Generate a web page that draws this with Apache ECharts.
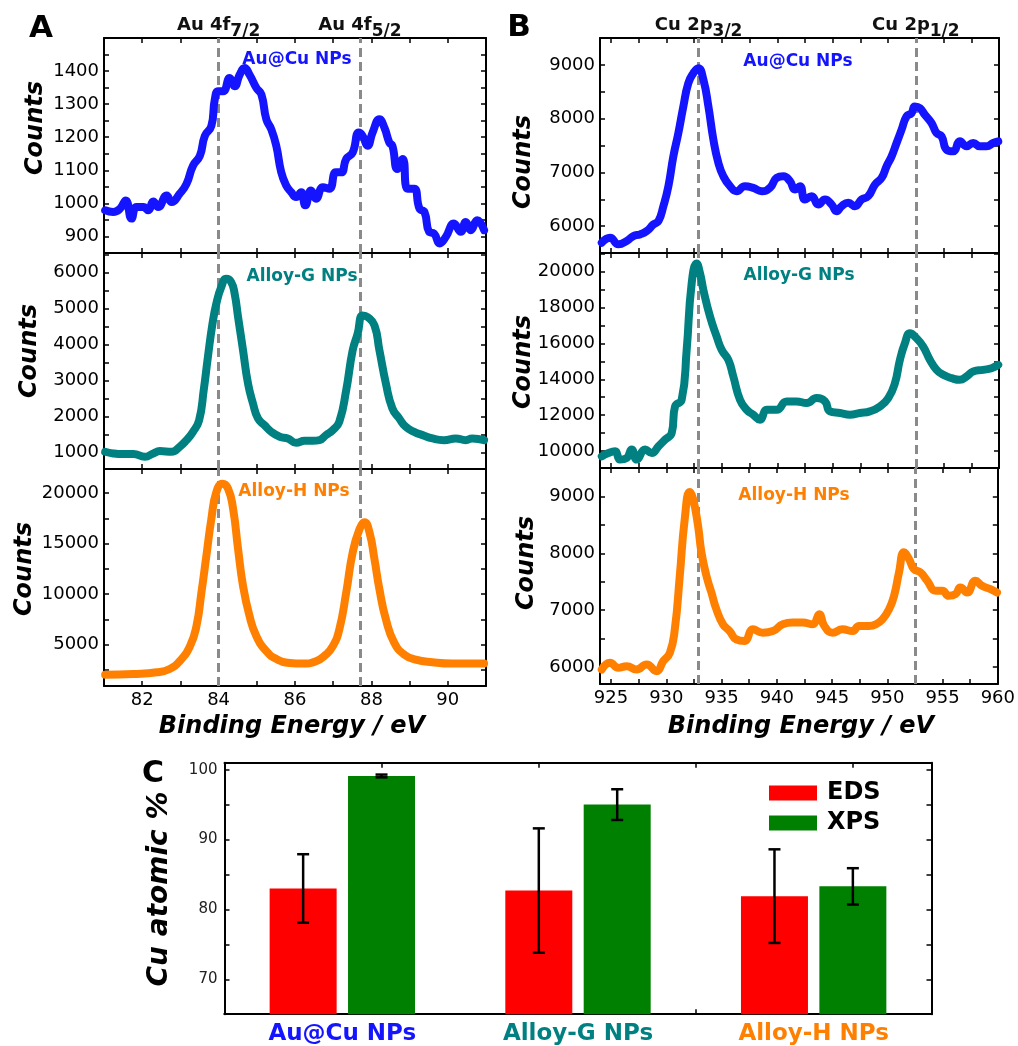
<!DOCTYPE html>
<html>
<head>
<meta charset="utf-8">
<script src="https://cdn.jsdelivr.net/npm/echarts@6/dist/echarts.min.js"></script>
<style>
  html, body { margin: 0; padding: 0; background: #fff; }
  #chart { width: 1018px; height: 1046px; }
</style>
</head>
<body>
<div id="chart"></div>
<script>
// ---------- data ----------
// Au 4f region (binding energy eV, counts)
const au4fAuCu = [[81.03,979],[81.24,974],[81.42,984],[81.57,1009],[81.72,954],[81.85,989],[82.03,989],[82.16,979],[82.29,1006],[82.42,989],[82.64,1024],[82.77,1004],[82.98,1029],[83.16,1059],[83.33,1114],[83.51,1144],[83.64,1204],[83.81,1234],[83.90,1314],[83.99,1339],[84.12,1339],[84.29,1379],[84.42,1354],[84.55,1389],[84.68,1409],[84.81,1389],[84.99,1349],[85.12,1329],[85.25,1254],[85.38,1224],[85.51,1174],[85.64,1094],[85.77,1054],[85.90,1034],[86.03,1019],[86.16,1034],[86.27,994],[86.42,1039],[86.55,1014],[86.73,1049],[86.90,1044],[87.07,1094],[87.21,1094],[87.34,1134],[87.51,1154],[87.67,1214],[87.77,1204],[87.90,1174],[88.03,1214],[88.21,1254],[88.34,1229],[88.47,1184],[88.55,1174],[88.68,1104],[88.82,1134],[88.95,1044],[89.12,1044],[89.26,984],[89.39,974],[89.51,914],[89.64,909],[89.79,879],[89.95,899],[90.16,939],[90.34,914],[90.47,944],[90.60,919],[90.77,949],[90.95,919]];
const au4fAlloyG = [[81.03,1029],[81.24,983],[81.50,964],[81.77,964],[82.07,890],[82.29,983],[82.46,1047],[82.77,1029],[82.98,1167],[83.16,1352],[83.33,1583],[83.49,1907],[83.61,2738],[83.72,3662],[83.84,4586],[83.94,5141],[84.07,5603],[84.20,5834],[84.33,5741],[84.42,5418],[84.51,4771],[84.64,3847],[84.77,2923],[84.90,2369],[85.03,1953],[85.20,1768],[85.38,1583],[85.60,1445],[85.81,1398],[86.03,1278],[86.25,1334],[86.47,1334],[86.64,1352],[86.81,1491],[86.99,1630],[87.16,1861],[87.34,2738],[87.51,3847],[87.64,4309],[87.77,4817],[87.90,4771],[88.08,4540],[88.21,3847],[88.38,2923],[88.55,2230],[88.73,1953],[88.90,1722],[89.12,1583],[89.34,1491],[89.60,1398],[89.90,1352],[90.21,1398],[90.47,1352],[90.64,1398],[90.95,1352]];
const au4fAlloyH = [[81.03,2022],[81.77,2088],[82.38,2254],[82.72,2586],[82.98,3351],[83.25,4841],[83.42,6830],[83.55,10148],[83.68,13797],[83.81,17446],[83.94,20100],[84.10,20929],[84.25,20431],[84.38,18441],[84.51,14461],[84.64,10812],[84.81,7827],[84.99,5836],[85.25,4344],[85.51,3581],[85.86,3183],[86.20,3117],[86.55,3351],[86.81,4012],[86.99,4841],[87.16,6500],[87.34,10148],[87.51,14129],[87.69,16450],[87.82,17114],[87.95,16119],[88.08,13466],[88.21,10480],[88.38,7495],[88.60,5173],[88.86,4012],[89.16,3514],[89.60,3249],[90.12,3117],[90.64,3117],[90.95,3117]];

// Cu 2p region
const cu2pAuCu = [[924.16,5692],[924.91,5784],[925.66,5661],[926.41,5723],[927.01,5815],[927.61,5846],[928.22,5908],[928.82,6032],[929.27,6093],[929.72,6372],[930.17,6743],[930.62,7299],[931.07,7732],[931.52,8227],[931.97,8660],[932.42,8845],[932.87,8938],[933.33,8722],[933.78,8227],[934.23,7609],[934.68,7176],[935.13,6928],[935.73,6743],[936.33,6650],[937.08,6743],[937.83,6712],[938.59,6650],[939.34,6712],[939.94,6897],[940.54,6928],[941.14,6836],[941.59,6681],[942.04,6743],[942.49,6496],[943.09,6557],[943.70,6403],[944.30,6496],[944.90,6403],[945.35,6279],[945.80,6372],[946.40,6434],[947.00,6372],[947.60,6496],[948.20,6557],[948.81,6774],[949.41,6897],[949.86,7114],[950.31,7299],[950.76,7547],[951.21,7794],[951.66,8041],[952.11,8103],[952.41,8227],[952.86,8196],[953.31,8072],[953.91,7918],[954.37,7732],[954.82,7670],[955.27,7423],[955.87,7392],[956.47,7578],[957.07,7485],[957.67,7547],[958.27,7485],[958.87,7485],[959.48,7547],[959.93,7578]];
const cu2pAlloyG = [[924.16,9705],[924.76,9890],[925.36,9983],[925.81,9519],[926.41,9612],[926.86,10076],[927.31,9519],[928.07,10076],[928.67,9890],[929.27,10261],[929.87,10633],[930.47,11003],[930.77,12487],[931.37,12858],[931.82,15641],[932.27,19351],[932.72,20464],[933.03,19907],[933.33,18980],[933.93,17496],[934.53,16383],[934.98,15641],[935.58,15084],[936.03,14157],[936.63,12858],[937.23,12302],[937.83,12024],[938.44,11745],[939.04,12302],[939.94,12302],[940.84,12766],[941.74,12766],[942.64,12673],[943.55,12951],[944.30,12766],[944.75,12210],[945.65,12116],[946.55,12024],[947.45,12116],[948.35,12210],[949.26,12487],[950.01,12951],[950.61,13786],[951.06,15084],[951.51,16012],[951.96,16568],[952.56,16290],[953.16,15826],[953.77,15084],[954.37,14528],[954.97,14250],[955.72,14064],[956.47,13971],[957.07,14157],[957.67,14435],[958.57,14528],[959.33,14621],[959.93,14806]];
const cu2pAlloyH = [[924.16,5955],[924.91,6073],[925.66,5984],[926.41,6014],[927.31,5955],[928.22,6043],[929.12,5925],[929.72,6102],[930.32,6249],[930.77,6662],[931.22,7604],[931.67,8605],[932.12,9077],[932.42,8959],[932.87,8488],[933.18,8016],[933.63,7604],[934.08,7310],[934.53,7015],[935.13,6750],[935.73,6632],[936.33,6485],[937.08,6456],[937.83,6662],[938.74,6603],[939.64,6632],[940.54,6750],[941.44,6780],[942.34,6780],[943.24,6750],[943.85,6927],[944.30,6721],[945.05,6603],[945.95,6662],[946.85,6632],[947.45,6721],[948.35,6721],[948.96,6750],[949.56,6838],[950.16,7015],[950.61,7251],[951.06,7663],[951.51,8016],[951.96,7899],[952.41,7722],[953.01,7663],[953.61,7516],[954.37,7339],[954.97,7339],[955.57,7251],[956.17,7280],[956.62,7398],[957.22,7310],[957.97,7516],[958.57,7428],[959.33,7369],[959.93,7310]];

// peak positions and names
const peaksAu = [84.0, 87.7];
const peakNamesAu = [['Au 4f', '7/2'], ['Au 4f', '5/2']];
const peaksCu = [932.9, 952.5];
const peakNamesCu = [['Cu 2p', '3/2'], ['Cu 2p', '1/2']];

// energy axes
const energyRangeAu = [81, 91];
const energyTicksAu = [82, 83, 84, 85, 86, 87, 88, 89, 90];
const energyLabelsAu = [82, 84, 86, 88, 90];
const energyRangeCu = [924, 960];
const energyTicksCu = [925, 927.5, 930, 932.5, 935, 937.5, 940, 942.5, 945, 947.5, 950, 952.5, 955, 957.5];
const energyLabelsCu = [925, 930, 935, 940, 945, 950, 955, 960];

// count axes, one per spectrum panel
const countRanges = [[850, 1500], [550, 6550], [900, 22400], [5500, 9500], [9050, 21050], [5700, 9500]];
const countLabels = [
  [900, 1000, 1100, 1200, 1300, 1400],
  [1000, 2000, 3000, 4000, 5000, 6000],
  [5000, 10000, 15000, 20000],
  [6000, 7000, 8000, 9000],
  [10000, 12000, 14000, 16000, 18000, 20000],
  [6000, 7000, 8000, 9000]
];
const countTicks = [
  [900, 950, 1000, 1050, 1100, 1150, 1200, 1250, 1300, 1350, 1400, 1450],
  [1000, 1500, 2000, 2500, 3000, 3500, 4000, 4500, 5000, 5500, 6000, 6500],
  [2500, 5000, 7500, 10000, 12500, 15000, 17500, 20000],
  [6000, 6500, 7000, 7500, 8000, 8500, 9000],
  [10000, 11000, 12000, 13000, 14000, 15000, 16000, 17000, 18000, 19000, 20000, 21000],
  [6000, 6500, 7000, 7500, 8000, 8500, 9000]
];

// Cu atomic % from EDS and XPS
const samples = ['Au@Cu NPs', 'Alloy-G NPs', 'Alloy-H NPs'];
const edsValues = [83.0, 82.7, 81.9];
const edsErrors = [4.9, 8.9, 6.7];
const xpsValues = [99.1, 95.0, 83.3];
const xpsErrors = [0.2, 2.2, 2.6];
const percentRange = [65, 101];
const percentLabels = [70, 80, 90, 100];
const percentTicks = [70, 75, 80, 85, 90, 95, 100];
const groupTicks = [1, 2, 3, 4];

// ---------- styling / layout ----------
const FONT = '"DejaVu Sans", Arial, sans-serif';
const BLUE = '#1414ff', TEAL = '#008080', ORANGE = '#ff8000';
const sampleColors = [BLUE, TEAL, ORANGE];

const gridBoxes = [
  { left: 104, top: 38, width: 382, height: 215 },
  { left: 104, top: 253, width: 382, height: 216 },
  { left: 104, top: 469, width: 382, height: 217 },
  { left: 600, top: 38, width: 399, height: 215 },
  { left: 600, top: 253, width: 399, height: 215 },
  { left: 600, top: 468, width: 399, height: 216 },
  { left: 224.5, top: 762.7, width: 707, height: 251.5 }
];

const spectra = [
  { data: au4fAuCu, color: BLUE },
  { data: au4fAlloyG, color: TEAL },
  { data: au4fAlloyH, color: ORANGE },
  { data: cu2pAuCu, color: BLUE },
  { data: cu2pAlloyG, color: TEAL },
  { data: cu2pAlloyH, color: ORANGE }
];

const BAR_W = 67;
const BAR_GAP = 0.17;

const lineBlack = { color: '#000', width: 2 };
const tickStyle = { color: '#000', width: 1.5 };
const plainNumber = v => String(v);

const xAxes = [], yAxes = [], series = [];

spectra.forEach((s, i) => {
  const isAu = i < 3;
  const range = isAu ? energyRangeAu : energyRangeCu;
  const ticks = isAu ? energyTicksAu : energyTicksCu;
  const labels = isAu ? energyLabelsAu : energyLabelsCu;
  const bottomPanel = (i % 3) === 2;
  const xBase = {
    type: 'value', gridIndex: i, min: range[0], max: range[1],
    splitLine: { show: false },
    axisLine: { show: true, onZero: false, lineStyle: lineBlack },
    axisTick: { show: true, inside: true, length: 5, customValues: ticks, lineStyle: tickStyle }
  };
  xAxes.push(Object.assign({}, xBase, {
    position: 'bottom',
    axisLabel: bottomPanel
      ? { show: true, customValues: labels, formatter: plainNumber, margin: 5, fontFamily: FONT, fontSize: 18, color: '#000' }
      : { show: false }
  }));
  xAxes.push(Object.assign({}, xBase, { position: 'top', axisLabel: { show: false } }));

  const yBase = {
    type: 'value', gridIndex: i, min: countRanges[i][0], max: countRanges[i][1],
    splitLine: { show: false },
    axisLine: { show: true, onZero: false, lineStyle: lineBlack },
    axisTick: { show: true, inside: true, length: 5, customValues: countTicks[i], lineStyle: tickStyle }
  };
  yAxes.push(Object.assign({}, yBase, {
    position: 'left',
    axisLabel: { show: true, customValues: countLabels[i], formatter: plainNumber, margin: 5, fontFamily: FONT, fontSize: 18, color: '#000' }
  }));
  yAxes.push(Object.assign({}, yBase, { position: 'right', axisLabel: { show: false } }));

  const peaks = isAu ? peaksAu : peaksCu;
  const names = isAu ? peakNamesAu : peakNamesCu;
  const topPanel = (i % 3) === 0;

  series.push({
    type: 'line',
    xAxisIndex: 2 * i, yAxisIndex: 2 * i,
    data: s.data,
    showSymbol: false,
    smooth: 0.5,
    lineStyle: { color: s.color, width: 8, cap: 'round', join: 'round' },
    itemStyle: { color: s.color },
    z: 3,
    markLine: {
      silent: true,
      symbol: 'none',
      z: 2,
      lineStyle: { color: '#8a8a8a', type: [9, 5], width: 3 },
      label: topPanel ? {
        show: true,
        position: 'end',
        distance: -2,
        formatter: p => '{m|' + names[p.dataIndex][0] + '}{s|' + names[p.dataIndex][1] + '}',
        rich: {
          m: { fontFamily: FONT, fontWeight: 'bold', fontSize: 18, lineHeight: 18, color: '#111', verticalAlign: 'top' },
          s: { fontFamily: FONT, fontWeight: 'bold', fontSize: 17, lineHeight: 24, color: '#111', verticalAlign: 'bottom' }
        }
      } : { show: false },
      data: peaks.map(x => ({ xAxis: x }))
    }
  });
});

// ---- bar panel (grid 6) ----
xAxes.push({
  type: 'category', gridIndex: 6, data: samples, position: 'bottom',
  axisLine: { show: true, lineStyle: lineBlack },
  axisTick: { show: false },
  axisLabel: {
    margin: 8,
    formatter: (v, idx) => '{c' + idx + '|' + v + '}',
    rich: {
      c0: { color: sampleColors[0], fontFamily: FONT, fontWeight: 'bold', fontSize: 23 },
      c1: { color: sampleColors[1], fontFamily: FONT, fontWeight: 'bold', fontSize: 23 },
      c2: { color: sampleColors[2], fontFamily: FONT, fontWeight: 'bold', fontSize: 23 }
    }
  }
});
const groupTickAxis = {
  type: 'value', gridIndex: 6, min: 0, max: 4.5,
  splitLine: { show: false },
  axisLabel: { show: false },
  axisLine: { show: true, onZero: false, lineStyle: lineBlack },
  axisTick: { show: true, inside: true, length: 5, customValues: groupTicks, lineStyle: tickStyle }
};
xAxes.push(Object.assign({}, groupTickAxis, { position: 'bottom' }));
xAxes.push(Object.assign({}, groupTickAxis, { position: 'top' }));

const pctBase = {
  type: 'value', gridIndex: 6, min: percentRange[0], max: percentRange[1],
  splitLine: { show: false },
  axisLine: { show: true, onZero: false, lineStyle: lineBlack },
  axisTick: { show: true, inside: true, length: 5, customValues: percentTicks, lineStyle: tickStyle }
};
yAxes.push(Object.assign({}, pctBase, {
  position: 'left',
  axisLabel: { show: true, customValues: percentLabels, formatter: plainNumber, margin: 7, fontFamily: FONT, fontSize: 15, color: '#222' }
}));
yAxes.push(Object.assign({}, pctBase, { position: 'right', axisLabel: { show: false } }));

series.push({
  type: 'bar', name: 'EDS', xAxisIndex: 12, yAxisIndex: 12,
  data: edsValues, barWidth: BAR_W, barGap: (BAR_GAP * 100) + '%',
  itemStyle: { color: '#ff0000' }, z: 2
});
series.push({
  type: 'bar', name: 'XPS', xAxisIndex: 12, yAxisIndex: 12,
  data: xpsValues, barWidth: BAR_W, barGap: (BAR_GAP * 100) + '%',
  itemStyle: { color: '#008000' }, z: 2
});

function errorBars(name, values, errors, side) {
  return {
    type: 'custom', name: name, xAxisIndex: 12, yAxisIndex: 12, z: 5, silent: true,
    data: values.map((v, i) => [i, v - errors[i], v + errors[i]]),
    renderItem: (params, api) => {
      const idx = api.value(0);
      const lo = api.coord([idx, api.value(1)]);
      const hi = api.coord([idx, api.value(2)]);
      const x = lo[0] + side * (BAR_W + BAR_W * BAR_GAP) / 2;
      const cap = 6;
      const st = { stroke: '#000', lineWidth: 2.5 };
      return {
        type: 'group',
        children: [
          { type: 'line', shape: { x1: x, y1: lo[1], x2: x, y2: hi[1] }, style: st },
          { type: 'line', shape: { x1: x - cap, y1: lo[1], x2: x + cap, y2: lo[1] }, style: st },
          { type: 'line', shape: { x1: x - cap, y1: hi[1], x2: x + cap, y2: hi[1] }, style: st }
        ]
      };
    }
  };
}
series.push(errorBars('EDS error', edsValues, edsErrors, -1));
series.push(errorBars('XPS error', xpsValues, xpsErrors, 1));

// ---- text annotations ----
function txt(text, x, y, size, opts) {
  opts = opts || {};
  return {
    type: 'text', x: x, y: y, rotation: opts.rotation || 0, silent: true, z: 10,
    style: {
      text: text,
      fill: opts.color || '#000',
      fontFamily: FONT,
      fontSize: size,
      fontWeight: 'bold',
      fontStyle: opts.italic ? 'italic' : 'normal',
      textAlign: 'center', textVerticalAlign: 'middle',
      align: 'center', verticalAlign: 'middle'
    }
  };
}
const graphics = [
  txt('A', 41, 29, 31),
  txt('B', 519, 28, 31),
  txt('C', 153, 774, 30),
  txt('Counts', 36, 128, 24, { italic: true, rotation: Math.PI / 2 }),
  txt('Counts', 30, 351, 24, { italic: true, rotation: Math.PI / 2 }),
  txt('Counts', 25, 569, 24, { italic: true, rotation: Math.PI / 2 }),
  txt('Counts', 524, 162, 24, { italic: true, rotation: Math.PI / 2 }),
  txt('Counts', 524, 362, 24, { italic: true, rotation: Math.PI / 2 }),
  txt('Counts', 527, 563, 24, { italic: true, rotation: Math.PI / 2 }),
  txt('Binding Energy / eV', 292, 727, 24, { italic: true }),
  txt('Binding Energy / eV', 801, 727, 24, { italic: true }),
  txt('Cu atomic %', 160, 889, 28, { italic: true, rotation: Math.PI / 2 }),
  txt(samples[0], 297, 60, 17, { color: BLUE }),
  txt(samples[1], 302, 277, 17, { color: TEAL }),
  txt(samples[2], 294, 492, 17, { color: ORANGE }),
  txt(samples[0], 798, 62, 17, { color: BLUE }),
  txt(samples[1], 799, 276, 17, { color: TEAL }),
  txt(samples[2], 794, 496, 17, { color: ORANGE })
];

const chart = echarts.init(document.getElementById('chart'), null, { renderer: 'canvas' });
chart.setOption({
  animation: false,
  backgroundColor: '#fff',
  grid: gridBoxes.map(g => Object.assign({ containLabel: false }, g)),
  xAxis: xAxes,
  yAxis: yAxes,
  legend: {
    data: ['EDS', 'XPS'],
    orient: 'vertical',
    left: 764, top: 775,
    itemWidth: 48, itemHeight: 15, itemGap: 4,
    icon: 'rect',
    selectedMode: false,
    textStyle: { fontFamily: FONT, fontSize: 24, fontWeight: 'bold', color: '#000', lineHeight: 26, padding: [0, 0, 0, 5] }
  },
  series: series,
  graphic: graphics
});
</script>
</body>
</html>
